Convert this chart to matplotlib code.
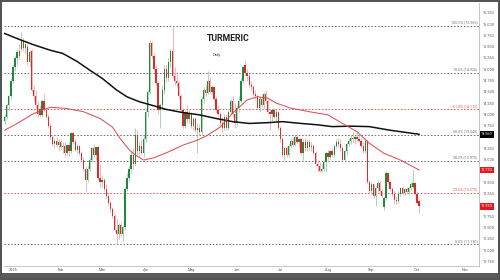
import matplotlib
matplotlib.use('Agg')
import matplotlib.pyplot as plt
import numpy as np
import pandas as pd
from matplotlib.patches import Rectangle
from matplotlib.transforms import blended_transform_factory

# ---------------- data ----------------
start_date = '2024-12-26'

opens = [
    13.85, 13.95, 14.20, 14.40, 14.75, 15.05, 15.25, 15.40, 15.45, 15.62,
    15.48, 15.50, 15.15, 15.40, 14.55, 14.40, 14.20, 14.12, 13.98, 14.30,
    14.10, 13.95, 13.75, 13.50, 13.35, 13.42, 13.32, 13.40, 13.28, 13.30,
    13.15, 13.32, 13.18, 13.58, 13.40, 13.22, 13.30, 13.15, 13.00, 12.80,
    12.55, 12.80, 13.00, 13.25, 13.10, 13.28, 12.60, 12.50, 12.55, 12.35,
    12.20, 12.05, 11.90, 11.75, 11.45, 11.35, 11.55, 11.35, 11.50, 12.35,
    12.60, 12.80, 13.10, 12.90, 13.55, 13.20, 13.30, 13.15, 13.45, 14.05,
    14.50, 15.58, 15.30, 15.00, 14.70, 14.10, 14.20, 14.55, 15.00, 14.80,
    15.15, 15.40, 14.85, 14.75, 14.70, 14.40, 14.10, 13.75, 14.05, 13.90,
    14.00, 13.75, 13.90, 13.65, 13.70, 13.60, 14.35, 14.55, 14.48, 14.75,
    14.50, 14.60, 14.35, 14.10, 14.00, 13.80, 13.70, 13.95, 13.70, 14.05,
    14.30, 14.00, 13.80, 14.15, 14.30, 14.75, 15.10, 14.92, 14.85, 14.65,
    14.60, 14.45, 14.40, 14.15, 14.35, 14.20, 14.45, 14.30, 14.05, 14.00,
    14.10, 13.95, 14.05, 13.70, 13.45, 13.10, 13.25, 13.10, 13.30, 13.42,
    13.32, 13.50, 13.38, 13.45, 13.15, 13.40, 13.25, 13.40, 13.28, 13.30,
    13.15, 12.90, 12.85, 12.75, 12.80, 12.95, 13.15, 13.05, 13.20, 13.10,
    13.30, 13.40, 13.35, 13.25, 13.00, 13.18, 13.35, 13.42, 13.48, 13.45,
    13.50, 13.45, 13.42, 13.30, 13.20, 13.42, 12.50, 12.30, 12.45, 12.20,
    12.38, 12.48, 12.30, 11.95, 12.15, 12.70, 12.50, 12.35, 12.25, 12.10,
    12.08, 12.25, 12.37, 12.26, 12.35, 12.28, 12.38, 12.40, 12.48, 12.25, 12.08,
]
highs = [
    14.00, 14.25, 14.45, 14.80, 15.10, 15.30, 15.45, 15.55, 15.82, 15.70,
    15.62, 15.55, 15.42, 15.45, 14.65, 14.55, 14.30, 14.20, 14.35, 14.45,
    14.15, 14.00, 13.80, 13.55, 13.48, 13.50, 13.45, 13.45, 13.38, 13.40,
    13.35, 13.38, 13.62, 13.60, 13.45, 13.35, 13.32, 13.20, 13.05, 12.85,
    12.85, 13.05, 13.28, 13.35, 13.30, 13.30, 12.90, 12.65, 12.60, 12.45,
    12.25, 12.10, 11.95, 11.80, 11.70, 11.60, 11.62, 11.55, 12.40, 12.70,
    12.85, 13.20, 13.25, 13.70, 13.65, 13.40, 13.45, 13.55, 14.10, 14.55,
    15.65, 15.62, 15.35, 15.10, 14.75, 14.25, 14.65, 15.10, 15.10, 15.25,
    15.45, 15.96, 15.05, 14.95, 14.75, 14.45, 14.15, 14.10, 14.20, 14.10,
    14.05, 13.95, 13.95, 13.80, 13.78, 14.40, 14.60, 14.65, 14.95, 14.82,
    14.65, 14.62, 14.40, 14.20, 14.05, 13.95, 14.00, 14.00, 14.10, 14.35,
    14.40, 14.25, 14.20, 14.40, 14.80, 15.10, 15.20, 15.00, 14.90, 14.75,
    14.65, 14.55, 14.45, 14.40, 14.45, 14.50, 14.55, 14.35, 14.12, 14.15,
    14.15, 14.12, 14.08, 13.75, 13.50, 13.30, 13.30, 13.35, 13.45, 13.48,
    13.55, 13.55, 13.48, 13.50, 13.45, 13.48, 13.45, 13.45, 13.38, 13.35,
    13.20, 13.00, 12.95, 12.90, 13.00, 13.20, 13.22, 13.22, 13.25, 13.35,
    13.45, 13.48, 13.45, 13.30, 13.22, 13.40, 13.48, 13.55, 13.60, 13.55,
    13.62, 13.55, 13.48, 13.38, 13.48, 13.45, 12.55, 12.50, 12.48, 12.42,
    12.55, 12.52, 12.35, 12.20, 12.75, 12.72, 12.55, 12.40, 12.30, 12.20,
    12.30, 12.40, 12.42, 12.38, 12.40, 12.42, 12.50, 12.80, 12.50, 12.30, 12.12,
]
lows = [
    13.78, 13.90, 14.10, 14.35, 14.70, 14.95, 15.10, 15.22, 15.40, 15.40,
    15.35, 15.10, 15.05, 14.50, 14.30, 14.15, 13.95, 13.95, 13.95, 14.05,
    13.90, 13.70, 13.45, 13.30, 13.25, 13.28, 13.20, 13.22, 13.15, 13.05,
    13.10, 13.08, 13.15, 13.35, 13.18, 13.15, 13.10, 12.95, 12.75, 12.30,
    12.50, 12.75, 12.95, 13.05, 13.00, 12.55, 12.40, 12.40, 12.30, 12.15,
    12.00, 11.85, 11.70, 11.40, 11.13, 11.25, 11.30, 11.20, 11.45, 12.30,
    12.50, 12.70, 12.80, 12.85, 13.10, 13.05, 13.10, 13.05, 13.40, 13.95,
    14.45, 15.25, 14.95, 14.65, 14.00, 13.70, 14.10, 14.45, 14.70, 14.75,
    15.05, 14.80, 14.65, 14.60, 14.35, 14.05, 13.70, 13.70, 13.80, 13.80,
    13.70, 13.65, 13.60, 13.15, 13.55, 13.55, 14.25, 14.40, 14.45, 14.45,
    14.45, 14.30, 14.05, 13.95, 13.75, 13.60, 13.65, 13.65, 13.65, 14.00,
    13.95, 13.70, 13.75, 14.05, 14.25, 14.70, 14.88, 14.75, 14.60, 14.55,
    14.40, 14.35, 14.10, 14.05, 14.15, 14.15, 14.25, 14.00, 13.65, 13.85,
    13.90, 13.85, 13.65, 13.40, 13.05, 13.00, 13.05, 13.05, 13.25, 13.28,
    13.30, 13.35, 13.25, 13.10, 13.00, 13.20, 13.20, 13.22, 13.20, 13.10,
    12.85, 12.73, 12.72, 12.72, 12.75, 12.73, 13.00, 13.00, 13.05, 13.05,
    13.25, 13.28, 13.20, 12.95, 12.95, 13.10, 13.30, 13.35, 13.40, 13.35,
    13.40, 13.38, 13.25, 13.15, 13.15, 12.45, 12.25, 12.25, 12.15, 11.97,
    12.28, 12.25, 12.15, 11.88, 12.10, 12.45, 12.30, 12.20, 12.05, 12.02,
    12.05, 12.20, 12.22, 12.22, 12.25, 12.25, 12.32, 12.36, 12.22, 12.02, 11.82,
]
closes = [
    13.95, 14.20, 14.40, 14.75, 15.05, 15.25, 15.38, 15.30, 15.65, 15.48,
    15.55, 15.15, 15.38, 14.55, 14.40, 14.20, 14.02, 13.98, 14.30, 14.10,
    13.95, 13.75, 13.50, 13.35, 13.42, 13.32, 13.40, 13.28, 13.30, 13.15,
    13.32, 13.18, 13.58, 13.40, 13.22, 13.30, 13.15, 13.00, 12.80, 12.55,
    12.80, 13.00, 13.25, 13.10, 13.28, 12.60, 12.50, 12.55, 12.35, 12.20,
    12.05, 11.90, 11.75, 11.45, 11.35, 11.55, 11.35, 11.50, 12.35, 12.60,
    12.80, 13.10, 12.90, 13.55, 13.20, 13.30, 13.15, 13.45, 14.05, 14.50,
    15.58, 15.30, 15.00, 14.70, 14.10, 14.20, 14.55, 15.00, 14.80, 15.15,
    15.40, 14.85, 14.75, 14.70, 14.40, 14.10, 13.75, 14.05, 13.90, 14.00,
    13.75, 13.90, 13.65, 13.70, 13.60, 14.35, 14.55, 14.48, 14.75, 14.50,
    14.60, 14.35, 14.10, 14.00, 13.80, 13.70, 13.95, 13.70, 14.05, 14.30,
    14.00, 13.80, 14.15, 14.30, 14.75, 15.05, 14.92, 14.85, 14.65, 14.60,
    14.45, 14.40, 14.15, 14.35, 14.20, 14.45, 14.30, 14.05, 14.00, 14.10,
    13.95, 14.05, 13.70, 13.45, 13.10, 13.25, 13.10, 13.30, 13.42, 13.32,
    13.50, 13.38, 13.45, 13.15, 13.40, 13.25, 13.40, 13.28, 13.30, 13.15,
    12.90, 12.85, 12.75, 12.80, 12.95, 13.15, 13.05, 13.20, 13.10, 13.30,
    13.40, 13.35, 13.25, 13.00, 13.18, 13.35, 13.42, 13.48, 13.45, 13.50,
    13.45, 13.42, 13.30, 13.20, 13.42, 12.50, 12.30, 12.45, 12.20, 12.38,
    12.48, 12.30, 12.20, 12.15, 12.70, 12.50, 12.35, 12.25, 12.10, 12.08,
    12.25, 12.37, 12.26, 12.35, 12.28, 12.38, 12.46, 12.48, 12.25, 12.05, 11.97,
]

# moving averages (session number, value)
sma200_days = [0, 7, 14, 22, 28, 35, 41, 47, 54, 59, 65, 72, 78, 86, 94, 102,
               110, 118, 128, 134, 143, 151, 158, 167, 176, 186, 200]
sma200_vals = [15.79, 15.66, 15.54, 15.42, 15.35, 15.17, 14.98, 14.80, 14.54,
               14.39, 14.28, 14.19, 14.11, 14.04, 13.99, 13.91, 13.84, 13.80,
               13.82, 13.84, 13.80, 13.77, 13.73, 13.74, 13.73, 13.65, 13.56]
sma50_days = [0, 6, 14, 22, 30, 38, 46, 52, 56, 60, 63, 67, 72, 78, 86, 93, 98,
              104, 110, 117, 122, 127, 131, 138, 147, 156, 163, 170, 176, 183,
              191, 200]
sma50_vals = [13.65, 13.80, 14.02, 14.16, 14.13, 14.06, 13.91, 13.72, 13.45,
              13.22, 13.10, 12.99, 13.04, 13.15, 13.32, 13.43, 13.54, 13.72,
              14.03, 14.32, 14.39, 14.36, 14.25, 14.14, 14.06, 13.99, 13.80,
              13.62, 13.36, 13.14, 12.99, 12.77]

month_starts = ['2025-01-01', '2025-02-01', '2025-03-01', '2025-04-01',
                '2025-05-01', '2025-06-01', '2025-07-01', '2025-08-01',
                '2025-09-01', '2025-10-01', '2025-11-01']
month_labels = ['2025', 'Feb', 'Mar', 'Apr', 'May', 'Jun', 'Jul', 'Aug',
                'Sep', 'Oct', 'Nov']

fib_ratios = [1.0, 0.786, 0.618, 0.5, 0.382, 0.236, 0.0]
fib_red_ratios = [0.618, 0.236]
y_ticks = [10.75, 11.0, 11.25, 11.5, 11.75, 12.0, 12.25, 12.5, 12.75, 13.0,
           13.25, 13.5, 13.75, 14.0, 14.25, 14.5, 14.75, 15.0, 15.25, 15.5,
           15.75, 16.0, 16.25]

title_text = 'TURMERIC'
subtitle_text = 'Daily'

# ---------------- styles ----------------
UP = '#1f8a3c'
DOWN = '#e3272d'
FS = 2.8
plt.rcParams['font.family'] = ['Roboto', 'DejaVu Sans']

fig = plt.figure(figsize=(5, 2.8), dpi=100)
fig.patch.set_facecolor('white')
ax = fig.add_axes([4 / 500, 14 / 280, 475 / 500, 263 / 280])

n = len(closes)
x = np.arange(n)
o = np.array(opens); h = np.array(highs); l = np.array(lows); c = np.array(closes)
up = c >= o
cols = np.where(up, UP, DOWN)
wick_cols = np.where(up, '#8cc49a', '#f0999b')
body = c - o
body = np.where(np.abs(body) < 0.02, np.where(up, 0.02, -0.02), body)

ax.vlines(x, l, h, colors=wick_cols, linewidth=0.5, zorder=2)
ax.bar(x, body, bottom=o, width=0.62, color=cols, linewidth=0, zorder=3)

ax.plot(sma200_days, sma200_vals, color='#111111', lw=1.1, zorder=4)
ax.plot(sma50_days, sma50_vals, color='#d9474a', lw=0.7, zorder=4)

# fibonacci retracement
hi = max(highs); lo = min(lows)
tr_lbl = blended_transform_factory(ax.transAxes, ax.transData)
for r in fib_ratios:
    lvl = lo + r * (hi - lo)
    col = '#e05a5a' if r in fib_red_ratios else '#6f6f6f'
    ax.axhline(lvl, color=col, lw=0.7, ls=(0, (1.6, 1.8)), zorder=1)
    ax.text(0.997, lvl + 0.03, f'{r*100:.1f}% ({lvl:.3f})', transform=tr_lbl,
            ha='right', va='bottom', fontsize=FS - 0.2, color=col)

ax.set_xlim(-0.34, 228.9)
ax.set_ylim(10.646, 16.465)

# axes
all_days = pd.bdate_range(start_date, '2025-12-31')
tick_pos = [int(all_days.searchsorted(pd.Timestamp(d))) for d in month_starts]
ax.set_xticks(tick_pos)
ax.set_xticklabels(month_labels)
ax.tick_params(axis='x', length=0, pad=1.2, labelsize=FS, labelcolor='#555555')

boxes = [(sma200_vals[-1], '#000000'), (sma50_vals[-1], '#e3191f'), (closes[-1], '#e3191f')]
shown = [t for t in y_ticks if all(abs(t - b) > 0.12 for b, _ in boxes)]
ax.yaxis.tick_right()
ax.set_yticks(shown)
ax.set_yticklabels([f'{t:.3f}' for t in shown])
ax.tick_params(axis='y', length=0, pad=3, labelsize=FS, labelcolor='#555555')

for side in ['top', 'left']:
    ax.spines[side].set_visible(False)
for side in ['right', 'bottom']:
    ax.spines[side].set_color('#bdbdbd')
    ax.spines[side].set_linewidth(0.6)

trans = blended_transform_factory(ax.transAxes, ax.transData)
for val, col in boxes:
    ax.text(1.004, val, f'{val:.3f}', transform=trans, ha='left', va='center',
            fontsize=FS, color='white', clip_on=False, zorder=6,
            bbox=dict(boxstyle='square,pad=0.35', fc=col, ec='none'))

ax.text(0.4716, 0.865, title_text, transform=ax.transAxes, ha='center',
        va='center', fontsize=6.3, fontweight='bold', color='#222222')
ax.text(0.448, 0.804, subtitle_text, transform=ax.transAxes, ha='center',
        va='center', fontsize=FS, color='#444444')

# outer frame
fig.patches.append(Rectangle((0, 0), 1, 7 / 280, transform=fig.transFigure,
                             fc='#5a5a5a', ec='none', zorder=10))
fig.patches.append(Rectangle((0, 0), 1, 1, transform=fig.transFigure,
                             fill=False, ec='#555555', lw=2.9, zorder=10))

fig.savefig('out.png', dpi=100)
